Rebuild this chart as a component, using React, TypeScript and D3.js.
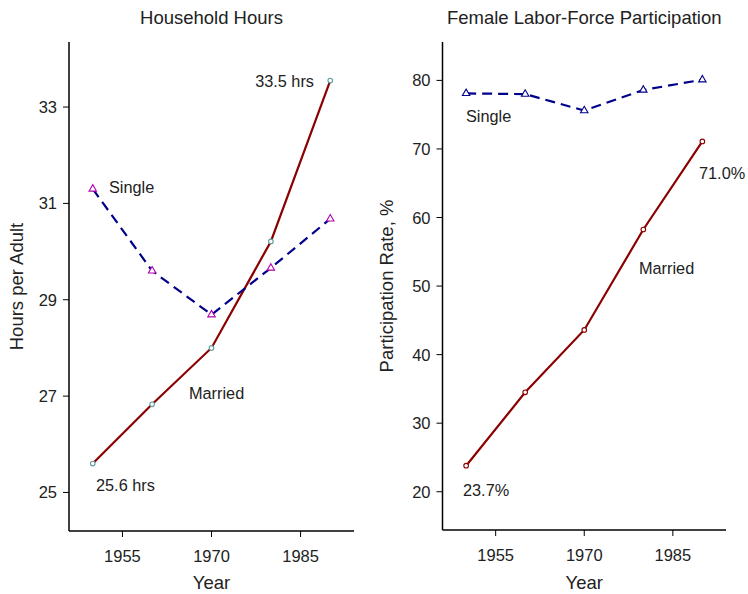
import React from "react";
import * as d3 from "d3";

const years = [1950, 1960, 1970, 1980, 1990];
const hoursMarried = [25.6, 26.83, 28.0, 30.21, 33.55];
const hoursSingle = [31.3, 29.6, 28.69, 29.66, 30.68];
const lfpMarried = [23.8, 34.5, 43.6, 58.25, 71.1];
const lfpSingle = [78.1, 78.0, 75.6, 78.6, 80.1];
const xTicks = [1955, 1970, 1985];
const hoursTicks = [25, 27, 29, 31, 33];
const lfpTicks = [20, 30, 40, 50, 60, 70, 80];

const FONT = "'Liberation Sans', Arial, Helvetica, sans-serif";
const MARRIED = "#8b0000";
const SINGLE = "#00008b";

type PanelProps = {
  x0: number;
  x1: number;
  yTop: number;
  yBot: number;
  yDomain: [number, number];
  yTicks: number[];
  married: number[];
  single: number[];
  title: string;
  yLabel: string;
  yLabelX: number;
  marriedMarker: string;
  singleMarker: string;
  annotations: { text: string; x: number; y: number; anchor: string }[];
};

function Panel(p: PanelProps) {
  const x = d3.scaleLinear().domain([1946, 1994]).range([p.x0, p.x1]);
  const y = d3.scaleLinear().domain(p.yDomain).range([p.yBot, p.yTop]);
  const line = d3
    .line<number>()
    .x((_, i) => x(years[i]))
    .y((d) => y(d));
  const tri = d3.symbol().type(d3.symbolTriangle).size(24)();
  const cx = (p.x0 + p.x1) / 2;
  return (
    <g fontFamily={FONT} fill="#222">
      <text x={cx} y={24} textAnchor="middle" fontSize={18.5}>
        {p.title}
      </text>
      <line x1={p.x0} x2={p.x0} y1={p.yTop} y2={p.yBot} stroke="#000" strokeWidth={1.5} />
      <line x1={p.x0} x2={p.x1} y1={p.yBot} y2={p.yBot} stroke="#000" strokeWidth={1.5} />
      {p.yTicks.map((t) => (
        <g key={t}>
          <line x1={p.x0 - 6} x2={p.x0} y1={y(t)} y2={y(t)} stroke="#000" />
          <text x={p.x0 - 12} y={y(t) + 6} textAnchor="end" fontSize={16.5}>
            {t}
          </text>
        </g>
      ))}
      {xTicks.map((t) => (
        <g key={t}>
          <line x1={x(t)} x2={x(t)} y1={p.yBot} y2={p.yBot + 6} stroke="#000" />
          <text x={x(t)} y={p.yBot + 31} textAnchor="middle" fontSize={16.5}>
            {t}
          </text>
        </g>
      ))}
      <text x={cx} y={589} textAnchor="middle" fontSize={18.5}>
        Year
      </text>
      <text
        transform={`translate(${p.yLabelX},${(p.yTop + p.yBot) / 2}) rotate(-90)`}
        textAnchor="middle"
        fontSize={18.5}
      >
        {p.yLabel}
      </text>
      <path d={line(p.married) || ""} fill="none" stroke={MARRIED} strokeWidth={2.2} />
      <path
        d={line(p.single) || ""}
        fill="none"
        stroke={SINGLE}
        strokeWidth={2.2}
        strokeDasharray="10,6"
      />
      {p.married.map((v, i) => (
        <circle
          key={i}
          cx={x(years[i])}
          cy={y(v)}
          r={2.3}
          fill="#fff"
          stroke={p.marriedMarker}
          strokeWidth={1.1}
        />
      ))}
      {p.single.map((v, i) => (
        <path
          key={i}
          d={tri || ""}
          transform={`translate(${x(years[i])},${y(v)})`}
          fill="#fff"
          stroke={p.singleMarker}
          strokeWidth={1.1}
        />
      ))}
      {p.annotations.map((a, i) => (
        <text key={i} x={a.x} y={a.y} textAnchor={a.anchor} fontSize={16.3}>
          {a.text}
        </text>
      ))}
    </g>
  );
}

export default function App() {
  return (
    <svg
      width={748}
      height={594}
      style={{ position: "absolute", left: 0, top: 0, background: "#fff" }}
    >
      <Panel
        x0={69}
        x1={354}
        yTop={42}
        yBot={531}
        yDomain={[24.2, 34.35]}
        yTicks={hoursTicks}
        married={hoursMarried}
        single={hoursSingle}
        title="Household Hours"
        yLabel="Hours per Adult"
        yLabelX={23}
        marriedMarker="#5f9ea0"
        singleMarker="#b000b0"
        annotations={[
          { text: "33.5 hrs", x: 314, y: 87, anchor: "end" },
          { text: "Single", x: 109, y: 193, anchor: "start" },
          { text: "Married", x: 189, y: 399, anchor: "start" },
          { text: "25.6 hrs", x: 96, y: 491, anchor: "start" },
        ]}
      />
      <Panel
        x0={442.5}
        x1={726}
        yTop={42}
        yBot={530}
        yDomain={[14.42, 85.6]}
        yTicks={lfpTicks}
        married={lfpMarried}
        single={lfpSingle}
        title="Female Labor-Force Participation"
        yLabel="Participation Rate, %"
        yLabelX={393}
        marriedMarker={MARRIED}
        singleMarker={SINGLE}
        annotations={[
          { text: "Single", x: 466, y: 122, anchor: "start" },
          { text: "71.0%", x: 699, y: 179, anchor: "start" },
          { text: "Married", x: 639, y: 274, anchor: "start" },
          { text: "23.7%", x: 463, y: 496, anchor: "start" },
        ]}
      />
    </svg>
  );
}
